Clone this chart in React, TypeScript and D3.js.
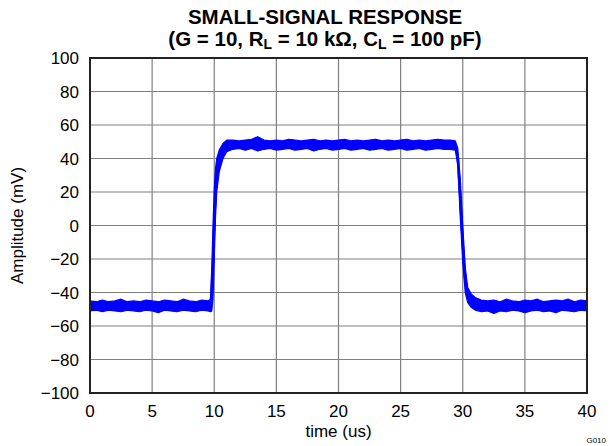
import React from "react";
import * as d3 from "d3";

const xTicks = [0, 5, 10, 15, 20, 25, 30, 35, 40];
const yTicks = [-100, -80, -60, -40, -20, 0, 20, 40, 60, 80, 100];

// noise envelope: time (us), upper and lower edge (mV)
const envTime = [
  0, 0.5, 1, 1.5, 2, 2.5, 3, 3.5, 4, 4.5, 5, 5.5, 6, 6.5, 7, 7.5, 8, 8.5, 9, 9.5, 9.7,
  9.8, 9.9, 10.0, 10.1, 10.2, 10.4, 10.7, 11.0, 11.5,
  12, 12.5, 13, 13.5, 14, 14.5, 15, 15.5, 16, 16.5, 17, 17.5, 18, 18.5, 19, 19.5, 20,
  20.5, 21, 21.5, 22, 22.5, 23, 23.5, 24, 24.5, 25, 25.5, 26, 26.5, 27, 27.5, 28, 28.5,
  29, 29.4, 29.6, 29.8, 30.0, 30.2, 30.4, 30.7, 31.0, 31.5,
  32, 32.5, 33, 33.5, 34, 34.5, 35, 35.5, 36, 36.5, 37, 37.5, 38, 38.5, 39, 39.5, 40,
];
const envUpper = [
  -45, -45.5, -44.5, -45.5, -45, -44, -45.5, -45, -45.5, -44.5, -45, -45.5, -44.5, -45, -45.5, -44, -45, -45.5, -44.5, -45, -44,
  -25, 0, 22, 34, 40, 45, 49, 51, 51,
  50.5, 51, 51.5, 53, 51, 50.5, 51, 50.5, 51.5, 51, 50.5, 51, 51.5, 50.5, 51, 50.5, 51,
  51.5, 50.5, 51, 50.5, 51, 51.5, 50.5, 51, 50.5, 51, 51.5, 50.5, 51, 50.5, 51, 51.5, 51,
  51, 50.5, 46, 28, 0, -25, -37, -41, -43, -44.5,
  -45, -44.5, -45.5, -44, -45, -45.5, -44.5, -45, -44, -45.5, -45, -44.5, -45, -44, -45.5, -44.5, -45,
];
const envLower = [
  -51, -50.5, -51.5, -50.5, -51, -51.5, -50.5, -51, -51.5, -50.5, -51, -52, -50.5, -51, -51.5, -50.5, -51, -51.5, -50.5, -51, -51.5,
  -51, -44, -20, 5, 20, 32, 40, 44, 45.5,
  46, 45, 46, 44.5, 45.5, 46, 45, 45.5, 46, 45, 45.5, 46, 44.5, 45.5, 46, 45, 45.5,
  46, 45, 45.5, 46, 45, 45.5, 46, 45, 45.5, 46, 45, 45.5, 46, 45, 45.5, 46, 45.5,
  45.5, 45, 36, 5, -22, -40, -46, -49, -50.5, -51.5,
  -51, -52.5, -51, -51.5, -50.5, -51, -52, -51, -50.5, -51.5, -51, -52, -50.5, -51, -51.5, -50.5, -51,
];

const W = 612;
const H = 446;
const m = { left: 90, right: 25, top: 58, bottom: 53 };

export default function App() {
  const x = d3.scaleLinear().domain([0, 40]).range([m.left, W - m.right]);
  const y = d3.scaleLinear().domain([-100, 100]).range([H - m.bottom, m.top]);
  const pts = envTime.map((t, i) => ({ t, u: envUpper[i], l: envLower[i] }));
  const area = d3
    .area<{ t: number; u: number; l: number }>()
    .x((d) => x(d.t))
    .y0((d) => y(d.l))
    .y1((d) => y(d.u))
    .curve(d3.curveLinear);
  const mid = d3
    .line<{ t: number; u: number; l: number }>()
    .x((d) => x(d.t))
    .y((d) => y((d.u + d.l) / 2));
  const font = "Liberation Sans, Arial, sans-serif";
  const x0 = x(0), x1 = x(40), y0 = y(-100), y1 = y(100);
  const titleX = 325;
  return (
    <svg width={W} height={H} style={{ position: "absolute", left: 0, top: 0, background: "#fff" }} fontFamily={font}>
      {xTicks.map((t) => (
        <line key={"gx" + t} x1={x(t)} x2={x(t)} y1={y1} y2={y0} stroke="#808080" strokeWidth={1.2} />
      ))}
      {yTicks.map((t) => (
        <line key={"gy" + t} x1={x0} x2={x1} y1={y(t)} y2={y(t)} stroke="#808080" strokeWidth={1.2} />
      ))}
      <path d={area(pts) || ""} fill="#0000ff" stroke="#0000ff" strokeWidth={1.2} strokeLinejoin="round" />
      <path d={mid(pts) || ""} fill="none" stroke="#0000ff" strokeWidth={2.5} />
      <rect x={x0} y={y1} width={x1 - x0} height={y0 - y1} fill="none" stroke="#222" strokeWidth={2} />
      {yTicks.map((t) => (
        <text key={"ly" + t} x={x0 - 11} y={y(t) + 6} textAnchor="end" fontSize={17} fill="#000">
          {t < 0 ? "\u2212" + Math.abs(t) : t}
        </text>
      ))}
      {xTicks.map((t) => (
        <text key={"lx" + t} x={x(t)} y={y0 + 24} textAnchor="middle" fontSize={17} fill="#000">
          {t}
        </text>
      ))}
      <text x={(x0 + x1) / 2} y={y0 + 44} textAnchor="middle" fontSize={17} fill="#000">
        time (us)
      </text>
      <text transform={`translate(23, ${(y0 + y1) / 2}) rotate(-90)`} textAnchor="middle" fontSize={17} fill="#000">
        Amplitude (mV)
      </text>
      <text x={titleX} y={24} textAnchor="middle" fontSize={20.5} fontWeight="bold" fill="#000">
        SMALL-SIGNAL RESPONSE
      </text>
      <text x={titleX} y={46} textAnchor="middle" fontSize={20.5} fontWeight="bold" fill="#000">
        (G = 10, R<tspan fontSize={14} dy={3}>L</tspan>
        <tspan dy={-3}> = 10 kΩ, C</tspan>
        <tspan fontSize={14} dy={3}>L</tspan>
        <tspan dy={-3}> = 100 pF)</tspan>
      </text>
      <text x={W - 6} y={H - 3} textAnchor="end" fontSize={8} fill="#000">
        G010
      </text>
    </svg>
  );
}
